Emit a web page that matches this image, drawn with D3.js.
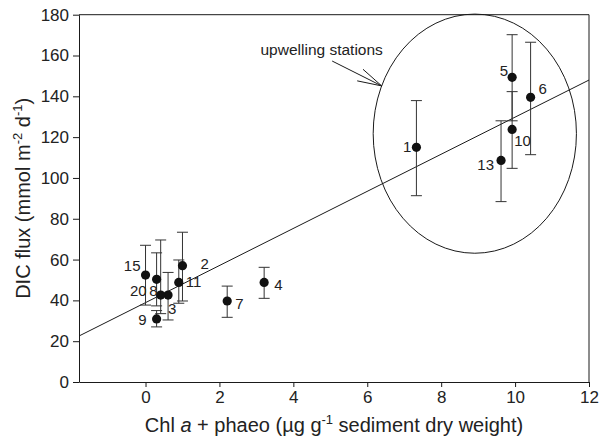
<!DOCTYPE html>
<html>
<head>
<meta charset="utf-8">
<script src="https://cdn.jsdelivr.net/npm/d3@7"></script>
<style>
  html, body { margin: 0; padding: 0; background: #fff; }
  svg { display: block; font-family: "Liberation Sans", Arial, Helvetica, sans-serif; }
</style>
</head>
<body>
<svg id="chart" width="609" height="441"></svg>
<script>
// ---- data ----
const stations = ["1", "2", "3", "4", "5", "6", "7", "8", "9", "10", "11", "13", "15", "20"];
const chl      = [7.33, 1.0, 0.61, 3.21, 9.92, 10.42, 2.21, 0.41, 0.30, 9.92, 0.90, 9.62, 0.0, 0.30];
const dic      = [115, 57, 42.6, 48.8, 149.3, 139.5, 39.7, 42.6, 30.9, 123.8, 48.8, 108.6, 52.4, 50.3];
const dicLow   = [91.3, 39.7, 30.4, 41.0, 128.0, 111.4, 31.7, 33.5, 27.0, 104.7, 38.6, 88.4, 37.7, 37.3];
const dicHigh  = [137.9, 73.4, 53.7, 56.2, 170.2, 166.5, 47.0, 69.6, 35.0, 142.3, 59.8, 128.0, 67.0, 63.3];
const xTicks = [0, 2, 4, 6, 8, 10, 12];
const yTicks = [0, 20, 40, 60, 80, 100, 120, 140, 160, 180];
const regression = { intercept: 38.9, slope: 9.09 };
const upwellingEllipse = { cx: 8.91, cy: 121.7, rx: 2.75, ry: 58.6 };
const annotationText = "upwelling stations";
const arrowFrom = [5.05, 157.3];
const arrowTo = [6.39, 145.1];

// label placement (pixel offsets from point): dx, baseline dy, anchor
const labelPlacement = {
  "1": [-5, 5, "end"], "2": [18, 3, "start"], "3": [0, 19, "start"], "4": [10, 8, "start"],
  "5": [-4, -1, "end"], "6": [8, -3, "start"], "7": [8, 8, "start"], "8": [-3, 1, "end"],
  "9": [-10, 6, "end"], "10": [2, 17, "start"], "11": [7, 5, "start"], "13": [-7, 10, "end"],
  "15": [-5, -4, "end"], "20": [-10, 17, "end"]
};

// ---- layout ----
const svg = d3.select("#chart");
const mLeft = 79, mRight = 589, mTop = 14.7, mBottom = 382;
const x = d3.scaleLinear().domain([-1.8, 12]).range([mLeft, mRight]);
const y = d3.scaleLinear().domain([0, 180]).range([mBottom, mTop]);
const ink = "#1a1a1a";

// frame (top & right)
svg.append("path")
  .attr("d", `M${mLeft},${mTop}H${mRight}V${mBottom}`)
  .attr("fill", "none").attr("stroke", ink).attr("stroke-width", 1);

// axes
const xAxis = svg.append("g").attr("transform", `translate(0,${mBottom})`)
  .call(d3.axisBottom(x).tickValues(xTicks).tickSize(5).tickPadding(4).tickSizeOuter(0));
const yAxis = svg.append("g").attr("transform", `translate(${mLeft},0)`)
  .call(d3.axisLeft(y).tickValues(yTicks).tickSize(6).tickPadding(4).tickSizeOuter(0));
[xAxis, yAxis].forEach(g => {
  g.select(".domain").attr("stroke", ink);
  g.selectAll(".tick line").attr("stroke", ink);
  g.selectAll(".tick text").attr("fill", "#222").style("font-size", "17px")
    .style("font-family", '"Liberation Sans", Arial, Helvetica, sans-serif');
});

// regression line
svg.append("line")
  .attr("x1", x(-1.8)).attr("y1", y(regression.intercept + regression.slope * -1.8))
  .attr("x2", x(12)).attr("y2", y(regression.intercept + regression.slope * 12))
  .attr("stroke", ink).attr("stroke-width", 1);

// ellipse
svg.append("ellipse")
  .attr("cx", x(upwellingEllipse.cx)).attr("cy", y(upwellingEllipse.cy))
  .attr("rx", x(upwellingEllipse.cx + upwellingEllipse.rx) - x(upwellingEllipse.cx))
  .attr("ry", y(upwellingEllipse.cy) - y(upwellingEllipse.cy + upwellingEllipse.ry))
  .attr("fill", "none").attr("stroke", ink).attr("stroke-width", 1);

// annotation + arrow
svg.append("text").attr("x", 260.5).attr("y", 55)
  .style("font-size", "15.5px").attr("fill", "#222").text(annotationText);
const ax0 = x(arrowFrom[0]), ay0 = y(arrowFrom[1]), ax1 = x(arrowTo[0]), ay1 = y(arrowTo[1]);
svg.append("line").attr("x1", ax0).attr("y1", ay0).attr("x2", ax1).attr("y2", ay1)
  .attr("stroke", ink).attr("stroke-width", 1);
const ang = Math.atan2(ay1 - ay0, ax1 - ax0), headLen = 25, headAng = 15 * Math.PI / 180;
[-1, 1].forEach(s => {
  svg.append("line").attr("x1", ax1).attr("y1", ay1)
    .attr("x2", ax1 - headLen * Math.cos(ang + s * headAng))
    .attr("y2", ay1 - headLen * Math.sin(ang + s * headAng))
    .attr("stroke", ink).attr("stroke-width", 1);
});

// data rows
const rows = stations.map((s, i) => ({ s, x: chl[i], y: dic[i], lo: dicLow[i], hi: dicHigh[i] }));

// error bars
const eb = svg.append("g").attr("stroke", "#333").attr("stroke-width", 1);
const cap = 5.5;
rows.forEach(d => {
  const cx = x(d.x);
  eb.append("line").attr("x1", cx).attr("x2", cx).attr("y1", y(d.lo)).attr("y2", y(d.hi));
  eb.append("line").attr("x1", cx - cap).attr("x2", cx + cap).attr("y1", y(d.lo)).attr("y2", y(d.lo));
  eb.append("line").attr("x1", cx - cap).attr("x2", cx + cap).attr("y1", y(d.hi)).attr("y2", y(d.hi));
});

// points
svg.append("g").selectAll("circle").data(rows).join("circle")
  .attr("cx", d => x(d.x)).attr("cy", d => y(d.y)).attr("r", 4.6).attr("fill", "#111");

// point labels
svg.append("g").selectAll("text").data(rows).join("text")
  .attr("x", d => x(d.x) + labelPlacement[d.s][0])
  .attr("y", d => y(d.y) + labelPlacement[d.s][1])
  .attr("text-anchor", d => labelPlacement[d.s][2])
  .style("font-size", "15px").attr("fill", "#222")
  .text(d => d.s);

// x title
const xt = svg.append("text").attr("x", 334).attr("y", 431.5).attr("text-anchor", "middle")
  .style("font-size", "20px").attr("fill", "#222");
xt.append("tspan").text("Chl ");
xt.append("tspan").style("font-style", "italic").text("a");
xt.append("tspan").text(" + phaeo (\u00b5g g");
xt.append("tspan").attr("dy", -8).style("font-size", "13px").text("-1");
xt.append("tspan").attr("dy", 8).text(" sediment dry weight)");

// y title
const yt = svg.append("text").attr("transform", `translate(30,${(mTop + mBottom) / 2}) rotate(-90)`)
  .attr("text-anchor", "middle").style("font-size", "20px").attr("fill", "#222");
yt.append("tspan").text("DIC flux (mmol m");
yt.append("tspan").attr("dy", -8).style("font-size", "13px").text("-2");
yt.append("tspan").attr("dy", 8).text(" d");
yt.append("tspan").attr("dy", -8).style("font-size", "13px").text("-1");
yt.append("tspan").attr("dy", 8).text(")");
</script>
</body>
</html>
